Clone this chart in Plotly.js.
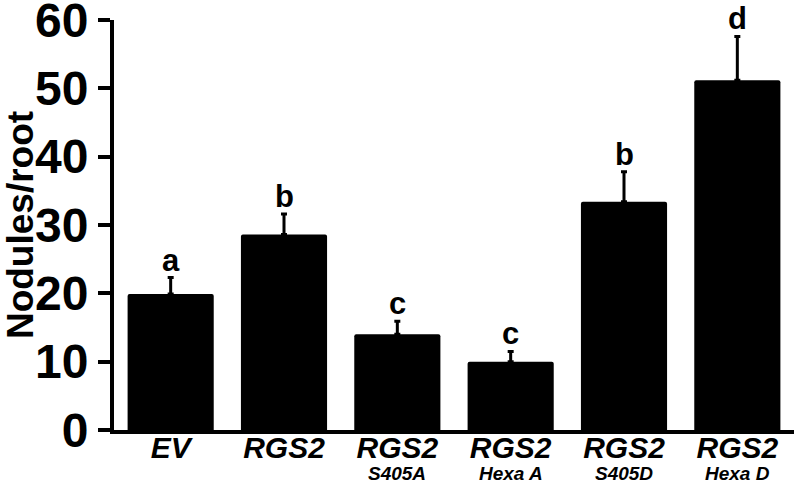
<!DOCTYPE html>
<html>
<head>
<meta charset="utf-8">
<script src="https://cdn.plot.ly/plotly-3.0.1.min.js"></script>
<style>html,body{margin:0;padding:0;background:#fff;}#chart{width:797px;height:482px;}</style>
</head>
<body>
<div id="chart"></div>
<script>
const categories = ["EV", "RGS2", "RGS2 S405A", "RGS2 Hexa A", "RGS2 S405D", "RGS2 Hexa D"];
const mainLabels = ["EV", "RGS2", "RGS2", "RGS2", "RGS2", "RGS2"];
const subLabels = ["", "", "S405A", "Hexa A", "S405D", "Hexa D"];
const values = [19.9, 28.6, 14.0, 10.0, 33.4, 51.2];
const errors = [2.4, 3.0, 1.9, 1.5, 4.4, 6.4];
const letters = ["a", "b", "c", "c", "b", "d"];
const yTicks = [0, 10, 20, 30, 40, 50, 60];

const FONT = "Liberation Sans, Arial, sans-serif";

const trace = {
  type: "bar",
  x: categories,
  y: values,
  marker: {color: "#000", line: {width: 0}, cornerradius: 2},
  error_y: {type: "data", symmetric: false, array: errors, arrayminus: errors.map(() => 0),
            color: "#000", thickness: 3, width: 3},
  hoverinfo: "none"
};

const annotations = [];
categories.forEach((c, i) => {
  annotations.push({
    x: c, y: values[i] + errors[i], xref: "x", yref: "y",
    text: "<b>" + letters[i] + "</b>", showarrow: false,
    yanchor: "bottom", yshift: -1, borderpad: 0,
    font: {family: FONT, size: 31, color: "#000"}
  });
  if (subLabels[i]) {
    annotations.push({
      x: c, y: 0, xref: "x", yref: "paper",
      text: "<b><i>" + subLabels[i] + "</i></b>", showarrow: false,
      yanchor: "top", yshift: -32, borderpad: 0,
      font: {family: FONT, size: 19, color: "#000"}
    });
  }
});

const layout = {
  width: 797, height: 482,
  margin: {l: 114, r: 3, t: 20, b: 52},
  paper_bgcolor: "#fff", plot_bgcolor: "#fff",
  showlegend: false,
  bargap: 0.24,
  font: {family: FONT, color: "#000"},
  xaxis: {
    type: "category",
    range: [-0.5, 5.5],
    tickmode: "array", tickvals: categories,
    ticktext: mainLabels.map(t => "<b><i>" + t + "</i></b>"),
    tickfont: {family: FONT, size: 30, color: "#000"},
    ticklabelstandoff: -12,
    showline: true, linecolor: "#000", linewidth: 4,
    ticks: "", showgrid: false, zeroline: false,
    automargin: false, fixedrange: true
  },
  yaxis: {
    range: [0, 60],
    tickmode: "array", tickvals: yTicks, ticktext: yTicks.map(v => "<b>" + v + "</b>"),
    tickfont: {family: FONT, size: 48, color: "#000"},
    ticklabeloverflow: "allow",
    ticks: "outside", ticklen: 12, tickwidth: 4, tickcolor: "#000",
    showline: true, linecolor: "#000", linewidth: 4,
    showgrid: false, zeroline: false,
    title: {text: "<b>Nodules/root</b>", font: {family: FONT, size: 37, color: "#000"}, standoff: 0},
    automargin: false, fixedrange: true
  },
  annotations: annotations
};

Plotly.newPlot("chart", [trace], layout, {displayModeBar: false, staticPlot: true});
</script>
</body>
</html>
